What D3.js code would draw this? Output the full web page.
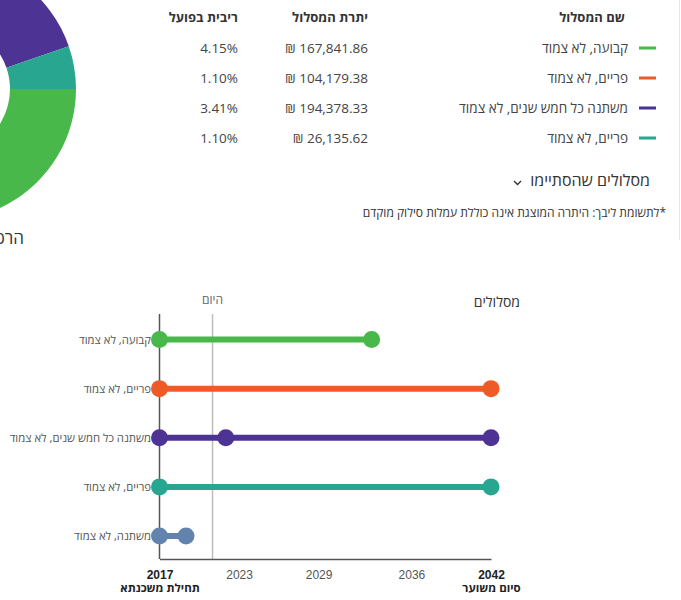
<!DOCTYPE html>
<html lang="he">
<head>
<meta charset="utf-8">
<script src="https://cdn.jsdelivr.net/npm/d3@7"></script>
<style>
  body { margin: 0; background: #fff; overflow: hidden; }
  svg { display: block; font-family: "Open Sans", "Liberation Sans", sans-serif; }
  .rtl { direction: rtl; unicode-bidi: embed; }
</style>
</head>
<body>
<svg id="chart" width="681" height="600"></svg>
<script>
// table / donut data
const tableNames = ["קבועה, לא צמוד", "פריים, לא צמוד", "משתנה כל חמש שנים, לא צמוד", "פריים, לא צמוד"];
const tableColors = ["#48b84b", "#ee5b26", "#4d3393", "#28a68f"];
const balances = [167841.86, 104179.38, 194378.33, 26135.62];
const rates = [4.15, 1.10, 3.41, 1.10];

// timeline data
const trackNames = ["קבועה, לא צמוד", "פריים, לא צמוד", "משתנה כל חמש שנים, לא צמוד", "פריים, לא צמוד", "משתנה, לא צמוד"];
const trackColors = ["#48b84b", "#ee5b26", "#4d3393", "#28a68f", "#6283ad"];
const startYears = [2017, 2017, 2017, 2017, 2017];
const endYears = [2033, 2042, 2042, 2042, 2019];
const changeYears = [null, null, 2022, null, null];
const todayYear = 2021;
const tickYears = [2017, 2023, 2029, 2036, 2042];
const tickSubs = { 2017: "תחילת משכנתא", 2042: "סיום משוער" };

const svg = d3.select("#chart");

// ---- donut (cut by the left edge)
const pie = d3.pie().sort(null).startAngle(Math.PI / 2).endAngle(Math.PI / 2 + 2 * Math.PI);
const arc = d3.arc().innerRadius(65).outerRadius(131);
svg.append("g")
  .attr("transform", "translate(-55,89)")
  .selectAll("path")
  .data(pie(balances))
  .join("path")
  .attr("d", arc)
  .attr("fill", (d, i) => tableColors[i]);

svg.append("text")
  .attr("class", "rtl")
  .attr("x", 24).attr("y", 244)
  .attr("text-anchor", "start")
  .attr("fill", "#333")
  .style("font-size", "17px")
  .text("הרכב המשכנתא");

// ---- table
const rowY = d3.scalePoint().domain(d3.range(balances.length)).range([48, 138]);
const fmt = d3.format(",.2f");

const headers = [
  { x: 625, t: "שם המסלול" },
  { x: 368, t: "יתרת המסלול" },
  { x: 238, t: "ריבית בפועל" }
];
svg.selectAll(".hdr")
  .data(headers)
  .join("text")
  .attr("class", "hdr rtl")
  .attr("x", d => d.x).attr("y", 22)
  .attr("text-anchor", "start")
  .attr("fill", "#333")
  .style("font-size", "13px")
  .style("font-weight", "bold")
  .text(d => d.t);

const rows = svg.selectAll(".row")
  .data(balances)
  .join("g")
  .attr("class", "row")
  .attr("transform", (d, i) => `translate(0,${rowY(i)})`);

rows.append("rect")
  .attr("x", 639).attr("y", -1.5)
  .attr("width", 17).attr("height", 3)
  .attr("fill", (d, i) => tableColors[i]);

rows.append("text")
  .attr("class", "rtl")
  .attr("x", 628).attr("y", 4.5)
  .attr("text-anchor", "start")
  .attr("fill", "#444")
  .style("font-size", "13.5px")
  .text((d, i) => tableNames[i]);

rows.append("text")
  .attr("x", 368).attr("y", 4.5)
  .attr("text-anchor", "end")
  .attr("fill", "#444")
  .style("font-size", "13.5px")
  .text(d => "₪ " + fmt(d));

rows.append("text")
  .attr("x", 238).attr("y", 4.5)
  .attr("text-anchor", "end")
  .attr("fill", "#444")
  .style("font-size", "13.5px")
  .text((d, i) => rates[i].toFixed(2) + "%");

svg.append("text")
  .attr("class", "rtl")
  .attr("x", 650).attr("y", 186)
  .attr("text-anchor", "start")
  .attr("fill", "#333")
  .style("font-size", "16px")
  .text("מסלולים שהסתיימו");

svg.append("path")
  .attr("d", "M514,181 l3.5,3.5 l3.5,-3.5")
  .attr("fill", "none")
  .attr("stroke", "#333")
  .attr("stroke-width", 1.4);

svg.append("text")
  .attr("class", "rtl")
  .attr("x", 666).attr("y", 217)
  .attr("text-anchor", "start")
  .attr("fill", "#333")
  .style("font-size", "12px")
  .text("*לתשומת ליבך: היתרה המוצגת אינה כוללת עמלות סילוק מוקדם");

svg.append("line")
  .attr("x1", 679.5).attr("x2", 679.5)
  .attr("y1", 0).attr("y2", 240)
  .attr("stroke", "#e6e6e6");

// ---- timeline
const x = d3.scaleLinear().domain([2017, 2042]).range([159.5, 491]);
const y = d3.scalePoint().domain(d3.range(trackNames.length)).range([339.5, 536]);
const yTop = 314, yBottom = 559;

svg.append("line")
  .attr("x1", x(todayYear)).attr("x2", x(todayYear))
  .attr("y1", yTop).attr("y2", yBottom)
  .attr("stroke", "#bdbdbd").attr("stroke-width", 1.5);

svg.append("text")
  .attr("class", "rtl")
  .attr("x", x(todayYear)).attr("y", 304)
  .attr("text-anchor", "middle")
  .attr("fill", "#666")
  .style("font-size", "12px")
  .text("היום");

svg.append("text")
  .attr("class", "rtl")
  .attr("x", 520).attr("y", 307)
  .attr("text-anchor", "start")
  .attr("fill", "#333")
  .style("font-size", "14px")
  .text("מסלולים");

const xAxis = svg.append("g")
  .attr("transform", `translate(0,${yBottom})`)
  .call(d3.axisBottom(x).tickValues(tickYears).tickSize(0).tickFormat(d3.format("d")));
xAxis.select(".domain").attr("stroke", "#555").attr("stroke-width", 1.5);
xAxis.selectAll(".tick text")
  .attr("y", 11)
  .attr("dy", "0.71em")
  .attr("fill", d => tickSubs[d] ? "#222" : "#555")
  .style("font-family", "'Liberation Sans', Arial, sans-serif")
  .style("font-size", "12px")
  .style("font-weight", d => tickSubs[d] ? "bold" : "normal");
xAxis.selectAll(".tick")
  .filter(d => tickSubs[d])
  .append("text")
  .attr("class", "rtl")
  .attr("y", 33)
  .attr("text-anchor", "middle")
  .attr("fill", "#222")
  .style("font-family", "'Open Sans', sans-serif")
  .style("font-size", "11.5px")
  .style("font-weight", "bold")
  .text(d => tickSubs[d]);

svg.append("line")
  .attr("x1", x(2017)).attr("x2", x(2017))
  .attr("y1", yTop).attr("y2", yBottom)
  .attr("stroke", "#555").attr("stroke-width", 1.5);

const tracks = svg.selectAll(".track")
  .data(trackNames)
  .join("g")
  .attr("class", "track")
  .attr("transform", (d, i) => `translate(0,${y(i)})`);

tracks.append("line")
  .attr("x1", (d, i) => x(startYears[i]))
  .attr("x2", (d, i) => x(endYears[i]))
  .attr("stroke", (d, i) => trackColors[i])
  .attr("stroke-width", 6);

tracks.each(function(d, i) {
  const pts = [startYears[i], changeYears[i], endYears[i]].filter(v => v != null);
  d3.select(this).selectAll("circle")
    .data(pts)
    .join("circle")
    .attr("cx", v => x(v))
    .attr("r", 8.5)
    .attr("fill", trackColors[i]);
});

tracks.append("text")
  .attr("class", "rtl")
  .attr("x", 151).attr("y", 4)
  .attr("text-anchor", "start")
  .attr("fill", "#555")
  .style("font-size", "11.3px")
  .text(d => d);
</script>
</body>
</html>
